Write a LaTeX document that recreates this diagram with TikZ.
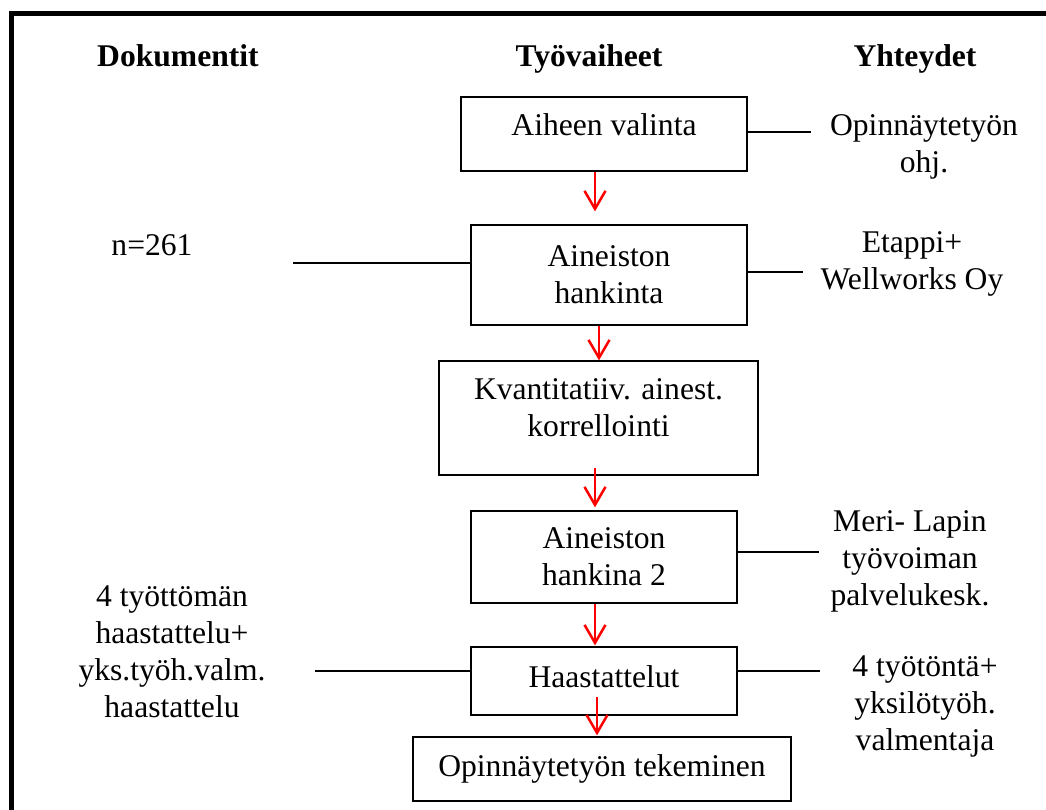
\documentclass[tikz,border=0pt]{standalone}
\usepackage{fontspec}
\setmainfont{Liberation Serif}
\usetikzlibrary{arrows.meta}

\tikzstyle{stage} = [rectangle, draw, text centered, align=center, line width=1.3pt, inner sep=0pt]
\tikzstyle{note} = [align=center, inner sep=0pt]
\tikzstyle{head} = [inner sep=0pt, anchor=base, font=\fontsize{31.6}{37}\selectfont\bfseries]
\tikzstyle{flow} = [draw, red, line width=2.5pt, -{Straight Barb[length=18pt,width=21pt]}]
\tikzstyle{link} = [draw, line width=1.5pt]

\begin{document}
\begin{tikzpicture}[x=1pt, y=-1pt, every node/.style={font=\fontsize{31.6}{37}\selectfont}]
    \useasboundingbox (0,0) rectangle (1046,810);
    \clip (0,0) rectangle (1046,810);
    \draw[line width=5pt] (11,830) -- (11,13.5) -- (1070,13.5);

    \node[head](Dokumentit) at (178,67){Dokumentit};
    \node[head](Tyovaiheet) at (589,67){Työvaiheet};
    \node[head](Yhteydet) at (915,67){Yhteydet};

    \node[stage, minimum width=286pt, minimum height=74pt, text depth=18pt]
            (AiheenValinta) at (604,134){Aiheen valinta};
    \node[stage, below of=AiheenValinta, node distance=141pt, xshift=5pt,
          minimum width=276pt, minimum height=100pt]
            (AineistonHankinta){Aineiston\\hankinta};
    \node[stage, below of=AineistonHankinta, node distance=143pt, xshift=-10.5pt,
          minimum width=319pt, minimum height=114pt, text depth=20pt]
            (Korrellointi){Kvantitatiiv. ainest.\\korrellointi};
    \node[stage, below of=Korrellointi, node distance=139pt, xshift=5.5pt,
          minimum width=266pt, minimum height=92pt]
            (AineistonHankinta2){Aineiston\\hankina 2};
    \node[stage, below of=AineistonHankinta2, node distance=124pt,
          minimum width=266pt, minimum height=68pt, text depth=8pt]
            (Haastattelut){Haastattelut};
    \node[stage, below of=Haastattelut, node distance=88pt, xshift=-2pt,
          minimum width=378pt, minimum height=64pt]
            (Opinnaytetyo){Opinnäytetyön tekeminen};

    \node[note, anchor=base](OtosN) at (152,255){n=261};
    \node[note](HaastDok) at (172,651.8)
            {4 työttömän\\haastattelu+\\yks.työh.valm.\\haastattelu};

    \node[note](OhjaajaYht) at (924,147){Opinnäytetyön\\ohj.};
    \node[note](EtappiYht) at (912,264.3){Etappi+\\Wellworks Oy};
    \node[note](MeriLappiYht) at (910,561.7){Meri- Lapin\\työvoiman\\palvelukesk.};
    \node[note](HaastYht) at (925,706.7){4 työtöntä+\\yksilötyöh.\\valmentaja};

    \coordinate (OhjEnd) at (811,132);
    \coordinate (EtappiEnd) at (803,272);
    \coordinate (OtosEnd) at (293,263);
    \coordinate (MeriEnd) at (819,552);
    \coordinate (HaastDokEnd) at (315,671);
    \coordinate (HaastYhtEnd) at (820,671);

    \path[link](AiheenValinta.east |- OhjEnd) -- (OhjEnd);
    \path[link](AineistonHankinta.east |- EtappiEnd) -- (EtappiEnd);
    \path[link](AineistonHankinta.west |- OtosEnd) -- (OtosEnd);
    \path[link](AineistonHankinta2.east |- MeriEnd) -- (MeriEnd);
    \path[link](Haastattelut.west |- HaastDokEnd) -- (HaastDokEnd);
    \path[link](Haastattelut.east |- HaastYhtEnd) -- (HaastYhtEnd);

    \path[flow, shorten >=13pt]([xshift=-9pt]AiheenValinta.south)
            -- ([xshift=-9pt]AiheenValinta.south |- AineistonHankinta.north);
    \path[flow]([xshift=-10pt]AineistonHankinta.south)
            -- ([xshift=-10pt]AineistonHankinta.south |- Korrellointi.north);
    \path[flow, shorten <=-8pt, shorten >=3pt]([xshift=-3.5pt]Korrellointi.south)
            -- ([xshift=-3.5pt]Korrellointi.south |- AineistonHankinta2.north);
    \path[flow, shorten >=1pt]([xshift=-9pt]AineistonHankinta2.south)
            -- ([xshift=-9pt]AineistonHankinta2.south |- Haastattelut.north);
    \path[flow, shorten <=-19pt, shorten >=1pt]([xshift=-7pt]Haastattelut.south)
            -- ([xshift=-7pt]Haastattelut.south |- Opinnaytetyo.north);
\end{tikzpicture}
\end{document}
